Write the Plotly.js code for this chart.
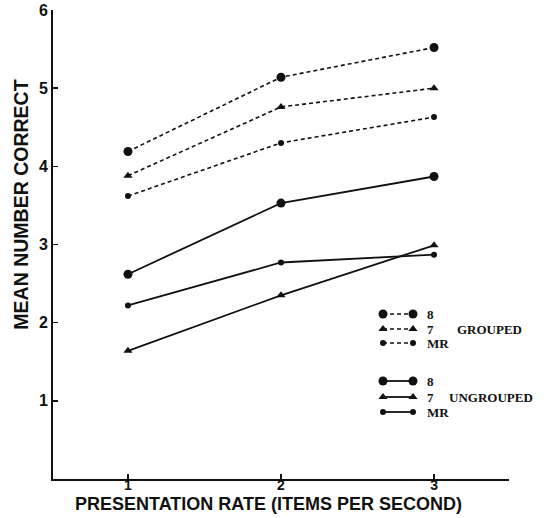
<!DOCTYPE html>
<html>
<head>
<meta charset="utf-8">
<script src="https://cdn.plot.ly/plotly-3.0.1.min.js"></script>
<style>html,body{margin:0;padding:0;background:#fff;}#chart{width:546px;height:518px;}</style>
</head>
<body>
<div id="chart"></div>
<script>
// ---- data ----
const rates = [1, 2, 3];
const grouped8  = [4.19, 5.14, 5.52];
const grouped7  = [3.88, 4.76, 5.00];
const groupedMR = [3.62, 4.30, 4.63];
const ungrouped8  = [2.62, 3.53, 3.87];
const ungrouped7  = [1.64, 2.35, 2.99];
const ungroupedMR = [2.22, 2.77, 2.87];
const yTicks = [1, 2, 3, 4, 5, 6];
const xTicks = [1, 2, 3];
const seriesLabels = ['8', '7', 'MR'];
const groupLabels = ['GROUPED', 'UNGROUPED'];
const xTitle = 'PRESENTATION RATE (ITEMS PER SECOND)';
const yTitle = 'MEAN NUMBER CORRECT';

// ---- styles ----
const ink = '#111';
const dashPat = '4px,3px';
const markerStyles = [
  {symbol: 'circle', size: 9},
  {symbol: 'triangle-up', size: 8},
  {symbol: 'circle', size: 6}
];

function series(y, idx, dashed) {
  return {
    x: rates, y: y, type: 'scatter', mode: 'lines+markers',
    line: {color: ink, width: dashed ? 1.6 : 1.8, dash: dashed ? dashPat : 'solid'},
    marker: {color: ink, symbol: markerStyles[idx].symbol, size: markerStyles[idx].size},
    showlegend: false, hoverinfo: 'skip', cliponaxis: false
  };
}

const traces = [
  series(grouped8, 0, true), series(grouped7, 1, true), series(groupedMR, 2, true),
  series(ungrouped8, 0, false), series(ungrouped7, 1, false), series(ungroupedMR, 2, false)
];

// ---- hand-drawn style key, placed on an overlay axis in pixel-like units ----
const keyRowsG = [314, 329, 343];
const keyRowsU = [381, 397, 412];
const keyX0 = 383, keyX1 = 413, keyLabelX = 425;
const annotations = [];
const keyFont = {family: 'Liberation Serif', size: 13, color: ink, weight: 'bold'};
function keyRow(yy, idx, dashed) {
  traces.push({
    x: [keyX0, keyX1], y: [yy, yy], xaxis: 'x2', yaxis: 'y2',
    type: 'scatter', mode: 'lines+markers',
    line: {color: ink, width: dashed ? 1.6 : 1.8, dash: dashed ? dashPat : 'solid'},
    marker: {color: ink, symbol: markerStyles[idx].symbol, size: markerStyles[idx].size},
    showlegend: false, hoverinfo: 'skip', cliponaxis: false
  });
  annotations.push({
    xref: 'x2', yref: 'y2', x: keyLabelX, y: yy, xanchor: 'left', yanchor: 'middle',
    text: seriesLabels[idx], showarrow: false, font: keyFont
  });
}
keyRowsG.forEach((yy, i) => keyRow(yy, i, true));
keyRowsU.forEach((yy, i) => keyRow(yy, i, false));
annotations.push({
  xref: 'x2', yref: 'y2', x: 455, y: keyRowsG[1], xanchor: 'left', yanchor: 'middle',
  text: groupLabels[0], showarrow: false, font: keyFont
});
annotations.push({
  xref: 'x2', yref: 'y2', x: 447, y: keyRowsU[1], xanchor: 'left', yanchor: 'middle',
  text: groupLabels[1], showarrow: false, font: keyFont
});

// axis titles as annotations (positioned like the original)
annotations.push({
  xref: 'paper', yref: 'paper', x: 0.4726, y: -0.053, xanchor: 'center', yanchor: 'middle',
  text: xTitle, showarrow: false,
  font: {family: 'Liberation Sans', size: 18, color: ink, weight: 'bold'}
});
annotations.push({
  xref: 'paper', yref: 'paper', x: -0.069, y: 0.584, xanchor: 'center', yanchor: 'middle',
  text: yTitle, showarrow: false, textangle: -90,
  font: {family: 'Liberation Sans', size: 19.5, color: ink, weight: 'bold'}
});

const layout = {
  width: 546, height: 518,
  margin: {l: 53, r: 37, t: 10, b: 39},
  paper_bgcolor: '#fff', plot_bgcolor: '#fff',
  showlegend: false,
  xaxis: {
    range: [0.51, 3.49], showgrid: false, zeroline: false,
    showline: true, linecolor: ink, linewidth: 2,
    tickmode: 'array', tickvals: xTicks.concat([3.49]), ticktext: xTicks.map(String).concat(['']),
    ticks: 'inside', ticklen: 5, tickwidth: 1.5, tickcolor: ink,
    tickfont: {family: 'Liberation Sans', size: 14, color: ink, weight: 'bold'},
    ticklabelstandoff: -8
  },
  yaxis: {
    range: [0, 6], showgrid: false, zeroline: false,
    showline: true, linecolor: ink, linewidth: 2,
    tickmode: 'array', tickvals: yTicks, ticktext: yTicks.map(String),
    ticks: 'inside', ticklen: 5, tickwidth: 1.5, tickcolor: ink,
    tickfont: {family: 'Liberation Sans', size: 16, color: ink, weight: 'bold'},
    ticklabelstandoff: 0
  },
  xaxis2: {overlaying: 'x', range: [53, 509], visible: false, fixedrange: true},
  yaxis2: {overlaying: 'y', range: [479, 10], visible: false, fixedrange: true},
  annotations: annotations
};

Plotly.newPlot('chart', traces, layout, {staticPlot: true, displayModeBar: false});
</script>
</body>
</html>
